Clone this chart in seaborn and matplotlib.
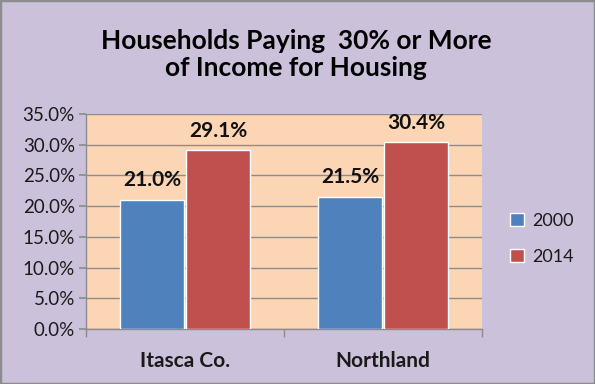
import matplotlib
matplotlib.use("Agg")
import matplotlib.pyplot as plt
import seaborn as sns
import pandas as pd
from matplotlib.ticker import FuncFormatter, MultipleLocator
from matplotlib.patches import Rectangle

categories = ["Itasca Co.", "Northland"]
years = ["2000", "2014"]
values_2000 = [21.0, 21.5]
values_2014 = [29.1, 30.4]
title = "Households Paying  30% or More\nof Income for Housing"

df = pd.DataFrame({
    "region": categories * 2,
    "year": [years[0]] * 2 + [years[1]] * 2,
    "value": values_2000 + values_2014,
})

sns.set_theme(style="white")
plt.rcParams['font.family'] = ['Lato', 'DejaVu Sans']

fig = plt.figure(figsize=(5.95, 3.84), dpi=100)
fig.patch.set_facecolor("#CCC1DA")
fig.patches.append(Rectangle((0, 0), 1, 1, transform=fig.transFigure,
                             fill=False, edgecolor="#8C8C8C", linewidth=2.5))
ax = fig.add_axes([86/595, 1-329/384, (482-86)/595, (329-114)/384])
ax.set_facecolor("#FCD5B5")

sns.barplot(data=df, x="region", y="value", hue="year",
            palette=["#4F81BD", "#C0504D"], width=0.665, gap=0.02,
            saturation=1, ax=ax, zorder=3)

ax.set_ylim(0, 35)
ax.set_xlim(-0.5, 1.5)
ax.yaxis.set_major_locator(MultipleLocator(5))
ax.yaxis.set_major_formatter(FuncFormatter(lambda v, p: f"{v:.1f}%"))
ax.grid(axis="y", color="#8C8C8C", linewidth=1, zorder=0)
ax.set_axisbelow(True)
ax.set_xlabel("")
ax.set_ylabel("")

for s in ["top", "right"]:
    ax.spines[s].set_visible(False)
for s in ["left", "bottom"]:
    ax.spines[s].set_color("#8C8C8C")
    ax.spines[s].set_linewidth(1)

ax.tick_params(axis="y", which="major", left=True, length=5, color="#8C8C8C",
               labelsize=13.5, labelcolor="#1a1a1a", pad=3)
ax.set_xticks([0, 1])
ax.set_xticklabels(categories, fontsize=15, fontweight="bold", color="#1a1a1a")
ax.tick_params(axis="x", which="major", bottom=False, pad=10)
ax.set_xticks([-0.5, 0.5, 1.5], minor=True)
ax.tick_params(axis="x", which="minor", bottom=True, length=6, color="#8C8C8C")

for cont in ax.containers:
    ax.bar_label(cont, labels=[f"{v:.1f}%" for v in cont.datavalues],
                 padding=7, fontsize=15, fontweight="bold", color="#111111")

leg = ax.legend(loc="center left", bbox_to_anchor=(1.03, 0.42), frameon=False,
                fontsize=13, handlelength=0.75, handleheight=0.75,
                labelspacing=1.1, handletextpad=0.5)
for t in leg.get_texts():
    t.set_color("#1a1a1a")

fig.text(0.498, 0.925, title, ha="center", va="top", fontsize=19,
         fontweight="bold", color="#000000", linespacing=1.15)

fig.savefig("out.png", dpi=100, facecolor=fig.get_facecolor())
